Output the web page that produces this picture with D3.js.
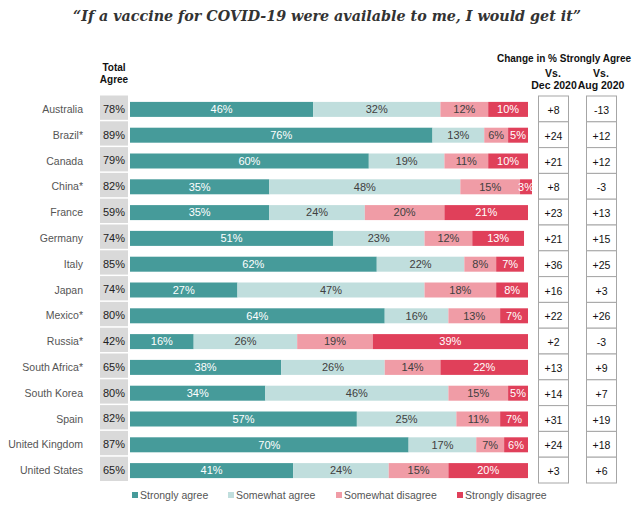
<!DOCTYPE html>
<html><head><meta charset="utf-8">
<script src="https://cdn.jsdelivr.net/npm/d3@7"></script>
<style>
html,body{margin:0;padding:0;background:#fff;}
svg{display:block;}
</style></head>
<body>
<svg id="chart" width="639" height="506"></svg>
<script>
const countries = ["Australia","Brazil*","Canada","China*","France","Germany","Italy","Japan","Mexico*","Russia*","South Africa*","South Korea","Spain","United Kingdom","United States"];
const stronglyAgree = [46,76,60,35,35,51,62,27,64,16,38,34,57,70,41];
const somewhatAgree = [32,13,19,48,24,23,22,47,16,26,26,46,25,17,24];
const somewhatDisagree = [12,6,11,15,20,12,8,18,13,19,14,15,11,7,15];
const stronglyDisagree = [10,5,10,3,21,13,7,8,7,39,22,5,7,6,20];
const totalAgree = [78,89,79,82,59,74,85,74,80,42,65,80,82,87,65];
const vsDec2020 = ["+8","+24","+21","+8","+23","+21","+36","+16","+22","+2","+13","+14","+31","+24","+3"];
const vsAug2020 = ["-13","+12","+12","-3","+13","+15","+25","+3","+26","-3","+9","+7","+19","+18","+6"];
const seriesNames = ["Strongly agree","Somewhat agree","Somewhat disagree","Strongly disagree"];
const seriesColors = ["#469b9a","#c0dedd","#f09ca6","#e0405a"];
const labelColors = ["#ffffff","#404040","#404040","#ffffff"];

const svg = d3.select("#chart");
const font = "Liberation Sans, Arial, sans-serif";

const table = countries.map((c,i)=>({country:c, v:[stronglyAgree[i],somewhatAgree[i],somewhatDisagree[i],stronglyDisagree[i]]}));

const y = d3.scaleBand().domain(countries).range([95.5, 482.5]).paddingInner(0).paddingOuter(0);
const x = d3.scaleLinear().domain([0,100]).range([130,528]);
const barH = 15;
const mid = d => y(d) + y.bandwidth()/2;

// Title
svg.append("text").attr("x",327).attr("y",21).attr("text-anchor","middle")
  .attr("font-family","DejaVu Serif, Liberation Serif, serif").attr("font-style","italic").attr("font-weight","bold")
  .attr("font-size",15.5).attr("fill","#333").attr("textLength",508).attr("lengthAdjust","spacingAndGlyphs")
  .text("\u201CIf a vaccine for COVID-19 were available to me, I would get it\u201D");

// Headers
const hdr = (t,xx,yy,fs)=>svg.append("text").attr("x",xx).attr("y",yy).attr("text-anchor","middle")
  .attr("font-family",font).attr("font-weight","bold").attr("font-size",fs).attr("fill","#111").text(t);
hdr("Total",114,71,10); hdr("Agree",114,83,10);
hdr("Change in % Strongly Agree",564,62,10); hdr("Vs.",553,77,10.5); hdr("Vs.",601,77,10.5);
hdr("Dec 2020",554,89,10.5); hdr("Aug 2020",601,89,10.5);

// Country labels
svg.append("g").selectAll("text").data(countries).join("text")
  .attr("x",83).attr("y",d=>mid(d)+1).attr("dy","0.35em").attr("text-anchor","end")
  .attr("font-family",font).attr("font-size",10.5).attr("fill","#555").text(d=>d);

// Total agree boxes
const tg = svg.append("g");
tg.selectAll("rect").data(countries).join("rect")
  .attr("x",100).attr("width",28).attr("y",d=>y(d)).attr("height",y.bandwidth()-1.5).attr("fill","#d9d9d9");
tg.selectAll("text").data(countries).join("text")
  .attr("x",114).attr("y",d=>mid(d)+0.5).attr("dy","0.35em").attr("text-anchor","middle")
  .attr("font-family",font).attr("font-size",11).attr("fill","#222").text((d,i)=>totalAgree[i]+"%");

// Stacked bars
const stack = d3.stack().keys([0,1,2,3]).value((d,k)=>d.v[k]);
const layers = stack(table);
const bg = svg.append("g");
layers.forEach((layer,k)=>{
  const g = bg.append("g");
  g.selectAll("rect").data(layer).join("rect")
    .attr("x",d=>x(d[0])).attr("width",d=>x(d[1])-x(d[0]))
    .attr("y",d=>mid(d.data.country)+1-barH/2).attr("height",barH)
    .attr("fill",seriesColors[k]);
  g.selectAll("text").data(layer).join("text")
    .attr("x",d=>(x(d[0])+x(d[1]))/2).attr("y",d=>mid(d.data.country)+1).attr("dy","0.35em")
    .attr("text-anchor","middle").attr("font-family",font).attr("font-size",11).attr("fill",labelColors[k])
    .text(d=>d.data.v[k]+"%");
});

// Change columns
const cols = [{x:538.5,vals:vsDec2020},{x:586.5,vals:vsAug2020}];
cols.forEach(c=>{
  const g = svg.append("g");
  g.selectAll("rect").data(countries).join("rect")
    .attr("x",c.x).attr("width",30).attr("y",d=>y(d)+0.5).attr("height",y.bandwidth())
    .attr("fill","#fff").attr("stroke","#a6a6a6").attr("stroke-width",1);
  g.selectAll("text").data(countries).join("text")
    .attr("x",c.x+15).attr("y",d=>mid(d)+2).attr("dy","0.35em").attr("text-anchor","middle")
    .attr("font-family",font).attr("font-size",10.5).attr("fill","#111").text((d,i)=>c.vals[i]);
});

// Legend
const legX = [132,228,336,457];
const lg = svg.append("g");
seriesNames.forEach((n,k)=>{
  lg.append("rect").attr("x",legX[k]).attr("y",492).attr("width",6).attr("height",6).attr("fill",seriesColors[k]);
  lg.append("text").attr("x",legX[k]+8).attr("y",495).attr("dy","0.35em")
    .attr("font-family",font).attr("font-size",10.5).attr("fill","#555").text(n);
});
</script>
</body></html>
